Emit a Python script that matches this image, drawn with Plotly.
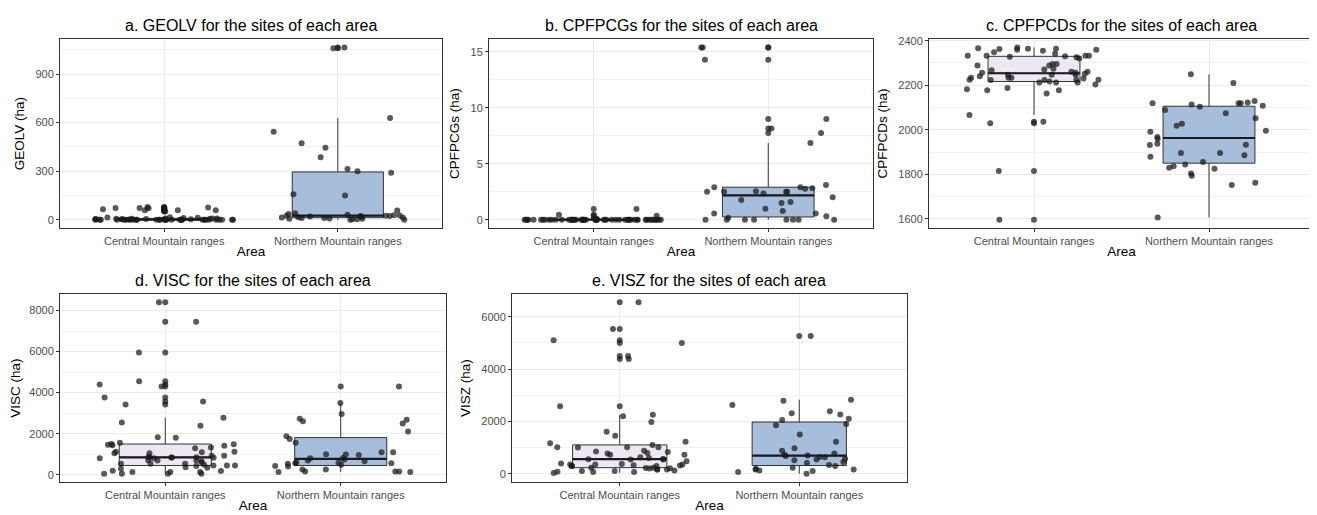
import plotly.graph_objects as go
import numpy as np

W, H = 1317, 515          # browser window
BODY = 8                  # default page margin the browser puts around the plot div
FW, FH = W - BODY, H - BODY
categories = ["Central Mountain ranges", "Northern Mountain ranges"]

# ---------------- data ----------------
geolv_central = [0, 0, 0, 0, 0, 0, 0, 0, 0, 0, 0, 0, 0, 0, 0, 0, 0, 0, 0, 0,
                 0, 0, 0, 0, 0, 0, 0, 0, 0, 0,
                 1, 1, 2, 2, 3, 3, 4, 4, 5, 5, 6, 7, 8, 8, 10, 12, 14, 15,
                 50, 58, 59, 59, 65, 70, 72, 72, 75, 78]
geolv_northern = [0, 0, 2, 3, 5, 6, 8, 10, 11, 13, 14, 15, 18, 20, 22, 22, 24, 24,
                  26, 28, 30, 35, 40, 57, 150, 157, 290, 300, 314, 386, 445, 473,
                  543, 629, 1060, 1065]

cpfpcgs_central = [0, 0, 0, 0, 0, 0, 0, 0, 0, 0, 0, 0, 0, 0, 0, 0, 0, 0, 0, 0,
                   0, 0, 0, 0, 0, 0, 0, 0, 0, 0, 0, 0, 0, 0, 0, 0, 0, 0, 0, 0,
                   0, 0, 0, 0, 0, 0, 0, 0, 0, 0, 0, 0, 0, 0,
                   0.1, 0.35, 0.45, 0.95]
cpfpcgs_northern = [0, 0, 0, 0, 0, 0, 0, 0, 0.18, 0.3, 0.56, 0.56, 0.77, 0.98,
                    1.5, 1.57, 1.75, 2.0, 2.35, 2.5, 2.5, 2.5, 2.5, 2.55, 2.76,
                    2.8, 2.9, 2.9, 3.1, 6.85, 7.75, 8.15, 9.0, 14.3, 15.4, 15.4]

cpfpcds_central = [1597, 1815, 2030, 2036, 2067,
                   2163, 2178, 2178, 2182, 2188, 2203, 2212, 2212, 2212, 2217,
                   2224, 2224, 2225, 2225, 2225, 2230, 2234, 2234, 2234, 2240,
                   2247, 2247, 2247, 2252, 2256,
                   2256, 2261, 2261, 2267, 2271, 2274, 2289, 2289, 2296, 2296,
                   2320, 2326, 2328, 2330,
                   2333, 2333, 2333, 2333, 2341, 2348, 2355, 2360, 2360, 2363,
                   2364, 2364, 2366, 2370]
cpfpcds_northern = [1607, 1753, 1763, 1794, 1804, 1825, 1830, 1837, 1845, 1856,
                    1879, 1886, 1896, 1896, 1932, 1933, 1938, 1959, 1968,
                    1991, 1996, 2018, 2027, 2052, 2074, 2089, 2104, 2108,
                    2114, 2119, 2119, 2119, 2123, 2129, 2210, 2249]

visc_central = [50, 50, 50, 50, 130, 130, 130, 180, 190, 290, 340, 370, 420, 450,
                450, 450, 480, 530, 530, 530, 610, 660, 690, 690, 705, 800, 800,
                830, 835, 840, 845, 850, 880, 930, 930, 1045, 1045, 1090, 1125,
                1125, 1285, 1330, 1415, 1440, 1460, 1480, 1495,
                1560, 1800, 1830, 2390, 2540, 2780, 3420, 3570, 3760, 4300,
                4400, 4550, 5960, 7450, 8400]
visc_northern = [130, 130, 160, 160, 160, 255, 255, 400, 420, 480,
                 530, 560, 560, 580, 600, 660, 690, 740, 800, 810, 965, 980,
                 1000, 1090, 1100,
                 1560, 1735, 1880, 2100, 2490, 2600, 2680, 2730, 2955, 3500, 4300]

visz_central = [30, 60, 60, 75, 100, 100, 125, 160, 160, 160, 200, 210, 220, 225,
                230, 290, 290, 290, 310, 325, 350, 350, 350, 375, 390, 475, 540,
                540, 555, 565, 600, 625, 725, 725, 775, 790, 825, 850, 875, 1000,
                1010, 1010, 1010, 1100,
                1160, 1225, 1450, 1600, 1980, 2200, 2250, 2580, 4380, 4500,
                5000, 5100, 5530, 6550]
visz_northern = [0, 60, 100, 125, 160, 160, 190, 225, 290, 335,
                 410, 450, 510, 540, 575, 625, 640, 680, 700,
                 725, 775, 875, 975, 1225, 1500, 1850, 1900,
                 2050, 2100, 2260, 2310, 2390, 2625, 2790, 2825, 5260]

titles = ["a. GEOLV for the sites of each area",
          "b. CPFPCGs for the sites of each area",
          "c. CPFPCDs for the sites of each area",
          "d. VISC for the sites of each area",
          "e. VISZ for the sites of each area"]
ytitles = ["GEOLV (ha)", "CPFPCGs (ha)", "CPFPCDs (ha)", "VISC (ha)", "VISZ (ha)"]
series = [(geolv_central, geolv_northern),
          (cpfpcgs_central, cpfpcgs_northern),
          (cpfpcds_central, cpfpcds_northern),
          (visc_central, visc_northern),
          (visz_central, visz_northern)]
tick_steps = [300, 5, 200, 2000, 2000]
tick_starts = [0, 0, 1600, 0, 0]

# ---------------- layout / style ----------------
# panel frames in window pixels: (left, top, right, bottom)
frames = [(60, 35, 442, 226), (489, 35, 873, 226), (929, 35, 1314, 226),
          (60, 292, 446, 482), (512, 292, 907, 482)]
fills = ["#ece7f2", "#a6bddb"]
FONT = "Liberation Sans, Arial, sans-serif"
pt_marker = dict(color="rgba(25,25,25,0.72)", size=6, line=dict(width=0))
JITTER_WIDTH = 0.4          # like ggplot2 geom_jitter(width = 0.4)
jitter_rng = np.random.default_rng(7)   # horizontal jitter only, values untouched


def px_x(px):
    return (px - BODY) / FW


def px_y(py):
    return 1 - (py - BODY) / FH


fig = go.Figure()
annotations = []
layout_axes = {}
for i, (title, ytitle, (cen, nor), step, t0, fr) in enumerate(
        zip(titles, ytitles, series, tick_steps, tick_starts, frames), start=1):
    xa, ya = f"x{i}", f"y{i}"
    for k, (vals, fill) in enumerate(zip((cen, nor), fills)):
        v = np.asarray(vals, dtype=float)
        # box with whiskers and centre-drawn outliers
        fig.add_trace(go.Box(
            x=np.full(len(v), k), y=v, xaxis=xa, yaxis=ya,
            boxpoints="outliers", pointpos=0, jitter=0, whiskerwidth=0,
            fillcolor=fill, line=dict(color="#333333", width=1),
            marker=pt_marker, showlegend=False, hoverinfo="skip"))
        # thicker median bar (ggplot fatten)
        med = float(np.median(v))
        fig.add_trace(go.Box(
            x=[k], q1=[med], median=[med], q3=[med], lowerfence=[med],
            upperfence=[med], xaxis=xa, yaxis=ya, boxpoints=False,
            whiskerwidth=0, fillcolor="rgba(0,0,0,0)",
            line=dict(color="#1a1a1a", width=2.2),
            showlegend=False, hoverinfo="skip"))
        # jittered points
        fig.add_trace(go.Scatter(
            x=k + jitter_rng.uniform(-JITTER_WIDTH, JITTER_WIDTH, len(v)), y=v,
            mode="markers", xaxis=xa, yaxis=ya, marker=pt_marker,
            showlegend=False, hoverinfo="skip"))
    allv = np.array(list(cen) + list(nor), dtype=float)
    lo, hi = allv.min(), allv.max()
    pad = 0.05 * (hi - lo)
    l, t, r, b = fr
    sfx = "" if i == 1 else str(i)
    layout_axes["xaxis" + sfx] = dict(
        domain=[px_x(l), px_x(r)], anchor=ya, range=[-0.6, 1.6],
        tickmode="array", tickvals=[0, 1], ticktext=categories,
        showgrid=True, gridcolor="#ebebeb", gridwidth=1,
        showline=True, mirror=True, linecolor="#333333", linewidth=1,
        ticks="outside", ticklen=3, tickcolor="#333333",
        tickfont=dict(size=11, color="#4d4d4d", family=FONT),
        title=dict(text="Area", font=dict(size=13.5, color="#000", family=FONT), standoff=0),
        zeroline=False)
    layout_axes["yaxis" + sfx] = dict(
        domain=[px_y(b), px_y(t)], anchor=xa, range=[lo - pad, hi + pad],
        tickmode="linear", tick0=t0, dtick=step,
        minor=dict(tickmode="linear", tick0=t0, dtick=step / 2, showgrid=True,
                   gridcolor="#f2f2f2", gridwidth=1, ticks=""),
        showgrid=True, gridcolor="#ebebeb", gridwidth=1,
        showline=True, mirror=True, linecolor="#333333", linewidth=1,
        ticks="outside", ticklen=3, tickcolor="#333333",
        tickfont=dict(size=11, color="#4d4d4d", family=FONT),
        title=dict(text=ytitle, font=dict(size=13.5, color="#000", family=FONT), standoff=7),
        zeroline=False)
    annotations.append(dict(
        text=title, xref="paper", yref="paper", x=px_x((l + r) / 2),
        y=px_y(t - 13), xanchor="center", yanchor="middle", showarrow=False,
        font=dict(size=16, color="#000", family=FONT)))

fig.update_layout(
    width=FW, height=FH, margin=dict(l=0, r=0, t=0, b=0),
    paper_bgcolor="white", plot_bgcolor="white",
    boxmode="overlay", boxgap=0.25,
    font=dict(family=FONT),
    annotations=annotations, **layout_axes)

fig.write_html("out.html")
